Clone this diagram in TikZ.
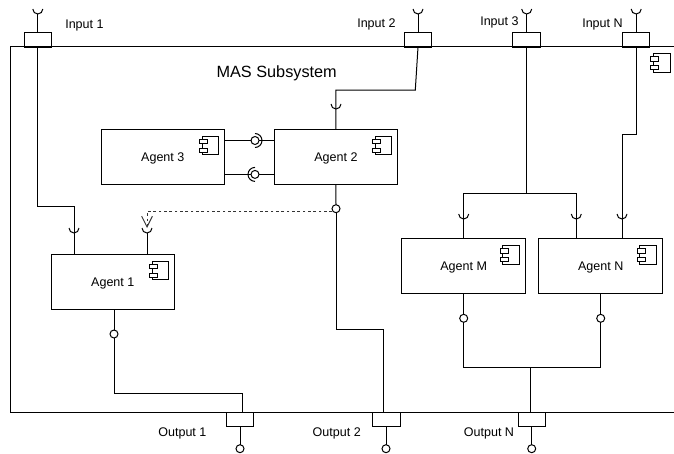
\documentclass[tikz,border=0pt]{standalone}
\usepackage{fontspec}
\setmainfont{Liberation Sans}
\usetikzlibrary{positioning,arrows.meta,calc}
\tikzset{
  wire/.style={draw=black,line width=0.75pt},
  wire-dep/.style={draw=black!80,line width=0.75pt,dash pattern=on 2pt off 2pt,
    -{Straight Barb[length=8pt,width=8pt,line width=0.75pt]}},
  node-agent/.style={draw,line width=0.75pt,outer sep=0pt,inner sep=0pt,text depth=0pt,
    minimum width=92.6pt,minimum height=41pt,align=center,font=\fontsize{9.4pt}{11pt}\selectfont},
  node-port/.style={draw,line width=0.75pt,outer sep=0pt,inner sep=0pt,
    minimum width=20.6pt,minimum height=10.7pt},
  node-ball/.style={draw,line width=0.75pt,circle,fill=white,outer sep=0pt,inner sep=0pt,minimum size=6pt},
  node-label/.style={inner sep=0pt,text depth=0pt,font=\fontsize{9.4pt}{11pt}\selectfont},
  pics/cup/.style={code={
    \draw[wire] (-5,0) arc[start angle=180,end angle=360,radius=3.75pt];}},
  pics/compicon/.style={code={
    \draw[line width=0.75pt] (-22.5,7) rectangle (-5.8,25.4);
    \draw[line width=0.75pt,fill=white] (-25.2,10) rectangle (-17.2,14.5);
    \draw[line width=0.75pt,fill=white] (-25.2,18.7) rectangle (-17.2,23.3);}},
}
\begin{document}
\begin{tikzpicture}[x=0.75pt,y=-0.75pt]
  \useasboundingbox (0,0) rectangle (674,453);
  % subsystem frame, open on the right
  \draw[wire] (674,47) -| (10,412) -- (674,412);
  \pic at (676.1,46.7) {compicon};
  \node[font=\fontsize{12.2pt}{14pt}\selectfont,inner sep=0pt,text depth=0pt] (mas) at (276.7,72) {MAS Subsystem};

  % agents
  \node[node-agent] (a3) at (162.8,156.7) {Agent 3};
  \node[node-agent] (a2) at (335.9,156.7) {Agent 2};
  \node[node-agent] (a1) at (112.8,281.8) {Agent 1};
  \node[node-agent] (am) at (463.7,266)   {Agent M};
  \node[node-agent] (an) at (600.7,266)   {Agent N};
  \pic at (a3.north east) {compicon};
  \pic at (a2.north east) {compicon};
  \pic at (a1.north east) {compicon};
  \pic at (am.north east) {compicon};
  \pic at (an.north east) {compicon};

  % ports on the frame
  \node[node-port] (in1)  at (37.8,40)   {};
  \node[node-port] (in2)  at (418,40)    {};
  \node[node-port] (in3)  at (526.7,40)  {};
  \node[node-port] (inn)  at (636.2,40)  {};
  \node[node-port] (out1) at (240.2,419.3) {};
  \node[node-port] (out2) at (386.3,419.3) {};
  \node[node-port] (outn) at (532.2,419.3) {};
  \node[node-label,anchor=west] (lin1) at (65,24)  {Input 1};
  \node[node-label,anchor=west] (lin2) at (357,23) {Input 2};
  \node[node-label,anchor=west] (lin3) at (480,21) {Input 3};
  \node[node-label,anchor=west] (linn) at (582,23) {Input N};
  \node[node-label,anchor=east] (lout1) at (206.7,431.7) {Output 1};
  \node[node-label,anchor=east] (lout2) at (361,431.7)   {Output 2};
  \node[node-label,anchor=east] (loutn) at (514.3,431.7) {Output N};

  % provided interfaces
  \node[node-ball] (b1)  at (114,334)     {};
  \node[node-ball] (b2)  at (336,208.7)   {};
  \node[node-ball] (bm)  at (463.7,318.3) {};
  \node[node-ball] (bn)  at (600.7,318.3) {};
  \node[node-ball] (bo1) at (240,448.7)   {};
  \node[node-ball] (bo2) at (386,448.7)   {};
  \node[node-ball] (bon) at (531.7,448.7) {};
  \node[node-ball] (s1)  at (255,140.5)   {};
  \node[node-ball] (s2)  at (255,174.4)   {};

  % outer input stems with their cups
  \coordinate (c1) at (37.8,9);
  \coordinate (c2) at (418,9);
  \coordinate (c3) at (526.7,9);
  \coordinate (cn) at (636.2,9);
  \pic at (c1) {cup};
  \pic at (c2) {cup};
  \pic at (c3) {cup};
  \pic at (cn) {cup};
  \draw[wire] (in1.north) -- ($(c1)+(0,5)$);
  \draw[wire] (in2.north) -- ($(c2)+(0,5)$);
  \draw[wire] (in3.north) -- ($(c3)+(0,5)$);
  \draw[wire] (inn.north) -- ($(cn)+(0,5)$);

  % input 1 to agent 1
  \coordinate (t1) at (74,206);
  \draw[wire] (in1.south) |- (t1) -- (t1 |- a1.north);
  \pic at (74,228) {cup};
  % input 2 to agent 2
  \coordinate (t2) at (415.3,90);
  \draw[wire] (in2.south) -- (t2) -- (t2 -| a2.north) -- (a2.north);
  \pic at (336,104) {cup};
  % input 3 to agents M and N
  \coordinate (j3) at (526.7,193);
  \coordinate (r3) at (576.3,193);
  \draw[wire] (in3.south) -- (j3);
  \draw[wire] (am.north) -- (am.north |- j3) -- (r3) -- (r3 |- an.north);
  \pic at (463.7,214) {cup};
  \pic at (576.3,214) {cup};
  % input N to agent N
  \coordinate (tn) at (622,134);
  \draw[wire] (inn.south) |- (tn) -- (tn |- an.north);
  \pic at (622,214) {cup};

  % agent 3 and agent 2
  \draw[wire] (a3.east |- s1) -- (s1.west);
  \draw[wire] (s1.east) -- (a2.west |- s1);
  \draw[wire] (s1) ++(0,-7) arc[start angle=90,end angle=-90,radius=5.25pt];
  \draw[wire] (a3.east |- s2) -- (s2.west);
  \draw[wire] (s2.east) -- (a2.west |- s2);
  \draw[wire] (s2) ++(0,-7) arc[start angle=90,end angle=270,radius=5.25pt];

  % agent 2 output and the dashed dependency
  \coordinate (t4) at (383.7,329.5);
  \draw[wire] (a2.south) -- (b2.north);
  \draw[wire] (b2.south) |- (t4) -- (t4 |- out2.north);
  \coordinate (d2) at (147,211.7);
  \coordinate (d1) at (147,228);
  \draw[wire-dep] (d2 -| b2.west) -- (d2) -- (d1);
  \pic at (d1) {cup};
  \draw[wire] ($(d1)+(0,5)$) -- (d1 |- a1.north);

  % agent outputs
  \coordinate (t5) at (242,393.7);
  \draw[wire] (b1 |- a1.south) -- (b1.north);
  \draw[wire] (b1.south) |- (t5) -- (t5 |- out1.north);
  \coordinate (j6) at (530.7,367.7);
  \draw[wire] (am.south) -- (bm.north);
  \draw[wire] (an.south) -- (bn.north);
  \draw[wire] (bm.south) |- (j6) -| (bn.south);
  \draw[wire] (j6) -- (j6 |- outn.north);

  % output stems
  \draw[wire] (out1.south -| bo1) -- (bo1.north);
  \draw[wire] (out2.south -| bo2) -- (bo2.north);
  \draw[wire] (outn.south -| bon) -- (bon.north);
\end{tikzpicture}
\end{document}
